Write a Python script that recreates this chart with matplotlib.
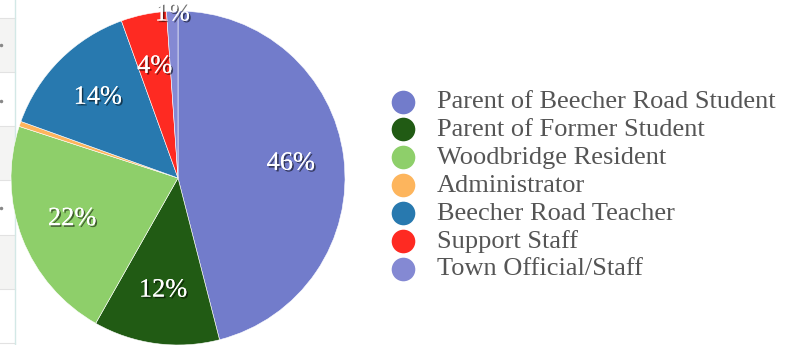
import numpy as np
import matplotlib.pyplot as plt
import matplotlib.patheffects as pe
from matplotlib.patches import Rectangle

labels = ['Parent of Beecher Road Student', 'Parent of Former Student',
          'Woodbridge Resident', 'Administrator', 'Beecher Road Teacher',
          'Support Staff', 'Town Official/Staff']
values = [46.0, 12.2, 21.8, 0.5, 14.0, 4.4, 1.1]
pct_text = ['46%', '12%', '22%', '', '14%', '4%', '1%']
colors = ['#727ccb', '#215b14', '#8ecf6a', '#fdb55d', '#2879af', '#fe2a22', '#8489d3']

W, H = 797, 345
fig = plt.figure(figsize=(W / 100, H / 100), dpi=100)
fig.patch.set_facecolor('white')

# overlay axes in pixel coordinates (left table fringe + legend)
ov = fig.add_axes([0, 0, 1, 1])
ov.set_xlim(0, W)
ov.set_ylim(H, 0)
ov.axis('off')
for y0 in [18, 126, 235]:
    ov.add_patch(Rectangle((0, y0), 15, 54, facecolor='#f4f4f3', edgecolor='none'))
for y0 in [18, 72, 126, 180, 235, 289, 343]:
    ov.plot([0, 15], [y0, y0], color='#e2e2e2', lw=0.8)
ov.plot([15, 15], [0, H], color='#d3e8e6', lw=1.0)
for y0 in [45, 101, 208]:
    ov.plot([0.5], [y0], 'o', color='#888888', ms=1.5)

# pie
ax = fig.add_axes([11 / W, 0 / H, 334 / W, 334 / H])
wedges, _ = ax.pie(values, colors=colors, startangle=90, counterclock=False,
                   radius=1.0, wedgeprops=dict(edgecolor='white', linewidth=0.4))
ax.set_xlim(-1, 1)
ax.set_ylim(-1, 1)
ax.set_aspect('equal')
ax.axis('off')

shadow = [pe.withSimplePatchShadow(offset=(1.2, -1.2), shadow_rgbFace='black', alpha=0.55),
          pe.Normal()]
cum = np.cumsum([0] + values[:-1])
total = sum(values)
for v, c, t in zip(values, cum, pct_text):
    if not t:
        continue
    mid = 90 - 360 * (c + v / 2) / total
    r = 0.68 if v > 3 else 0.98
    x, y = r * np.cos(np.radians(mid)), r * np.sin(np.radians(mid))
    ax.text(x, y, t, ha='center', va='center', color='white', fontsize=19,
            family='Liberation Serif', path_effects=shadow, clip_on=False)

# legend
for i, (lab, col) in enumerate(zip(labels, colors)):
    yy = 101.5 + i * 27.9
    ov.plot([403], [yy], 'o', color=col, ms=17, mec='none')
    ov.text(437, yy + 0.5, lab, ha='left', va='center', color='#555555',
            fontsize=19, family='Liberation Serif')

fig.savefig('out.png', dpi=100)
